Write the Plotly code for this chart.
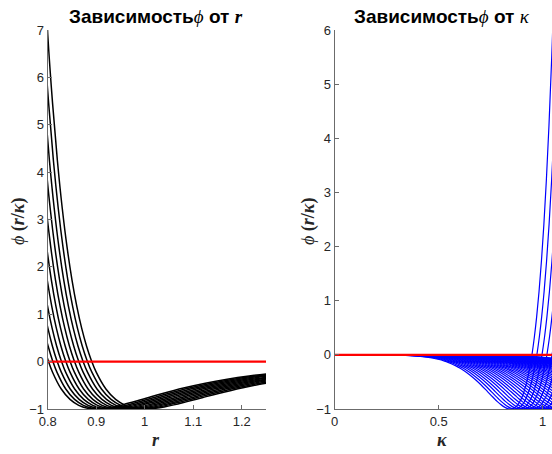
import plotly.graph_objects as go

base_s = [0.78, 0.80, 0.81, 0.82, 0.83, 0.84, 0.85, 0.86, 0.87, 0.88, 0.89, 0.90,
          0.92, 0.94, 0.96, 0.98, 1.00, 1.02, 1.04, 1.06, 1.08, 1.10, 1.12, 1.15,
          1.20, 1.25, 1.30, 1.35, 1.40, 1.45, 1.50, 1.55, 1.60, 1.70, 1.80, 1.90,
          2.00, 2.20, 2.50, 2.80, 3.00, 3.50, 4.00, 10.0, 1000.0]
base_phi = [10.837, 6.9225, 5.4552, 4.2414, 3.2382, 2.4098, 1.7274, 1.1661, 0.7059,
            0.3301, 0.0244, -0.2227, -0.5785, -0.7979, -0.9230, -0.9834, -1.0,
            -0.9874, -0.9560, -0.9129, -0.8632, -0.8103, -0.7566, -0.6778, -0.5576,
            -0.4556, -0.3714, -0.3031, -0.2480, -0.2036, -0.1679, -0.1390, -0.1157,
            -0.0811, -0.0579, -0.0421, -0.0310, -0.0176, -0.0082, -0.0042, -0.0027,
            -0.0011, -0.0005, 0.0, 0.0]

# Left panel: one curve per kappa
kappa_left = [0.90, 0.91, 0.92, 0.93, 0.94, 0.95, 0.96, 0.97, 0.98, 0.99, 1.00]
# Right panel: one curve per r
r_right = [0.845, 0.866, 0.888, 0.909, 0.931, 0.952, 0.974, 0.995, 1.017, 1.038,
           1.060, 1.081, 1.103, 1.124, 1.146, 1.167, 1.189, 1.210, 1.232, 1.253,
           1.275, 1.296, 1.318, 1.339, 1.361, 1.382, 1.404, 1.425, 1.447, 1.468,
           1.490, 1.511, 1.533, 1.554, 1.576, 1.597, 1.619, 1.640, 1.662, 1.683,
           1.705, 1.726, 1.748, 1.769, 1.791, 1.812, 1.834, 1.855, 1.877]

zero_left_x = [0.8, 1.25]
zero_right_x = [0.0, 1.2]
zero_y = [0, 0]

left_xticks = [0.8, 0.9, 1.0, 1.1, 1.2]
left_xtext = ["0.8", "0.9", "1", "1.1", "1.2"]
left_yticks = [-1, 0, 1, 2, 3, 4, 5, 6, 7]
right_xticks = [0, 0.5, 1]
right_xtext = ["0", "0.5", "1"]
right_yticks = [-1, 0, 1, 2, 3, 4, 5, 6]

W, H = 552, 454
fig = go.Figure()

for k in kappa_left:
    fig.add_trace(go.Scatter(x=[k * s for s in base_s], y=base_phi, mode="lines",
                             line=dict(color="black", width=1.5, shape="spline"),
                             xaxis="x", yaxis="y", showlegend=False, hoverinfo="skip"))
fig.add_trace(go.Scatter(x=zero_left_x, y=zero_y, mode="lines",
                         line=dict(color="#ff0000", width=2.2), xaxis="x", yaxis="y",
                         showlegend=False))

for r in r_right:
    fig.add_trace(go.Scatter(x=[r / s for s in base_s], y=base_phi, mode="lines",
                             line=dict(color="#0000ff", width=1.2, shape="spline"),
                             xaxis="x2", yaxis="y2", showlegend=False, hoverinfo="skip"))
fig.add_trace(go.Scatter(x=zero_right_x, y=zero_y, mode="lines",
                         line=dict(color="#ff0000", width=2.2), xaxis="x2", yaxis="y2",
                         showlegend=False))

axcol = "#6b6b6b"
tickfont = dict(family="Liberation Sans, Arial, sans-serif", size=13, color="#262626")
common = dict(showgrid=False, zeroline=False, showline=True, linecolor=axcol, linewidth=1,
              ticks="inside", ticklen=4, tickcolor=axcol, tickwidth=1, tickfont=tickfont,
              mirror=False, fixedrange=True, automargin=False)

ytop = 1 - 30 / H
ybot = 1 - 409 / H
fig.update_layout(
    width=W, height=H, margin=dict(l=0, r=0, t=0, b=0, autoexpand=False),
    paper_bgcolor="white", plot_bgcolor="white",
    xaxis=dict(domain=[47.7 / W, 266 / W], range=[0.8, 1.25], tickvals=left_xticks,
               ticktext=left_xtext, anchor="y", **common),
    yaxis=dict(domain=[ybot, ytop], range=[-1, 7], tickvals=left_yticks, anchor="x", **common),
    xaxis2=dict(domain=[334.7 / W, 1.0], range=[0, 1.045], tickvals=right_xticks,
                ticktext=right_xtext, anchor="y2", **common),
    yaxis2=dict(domain=[ybot, ytop], range=[-1, 6], tickvals=right_yticks, anchor="x2", **common),
)

SERIF = "font-family:'Liberation Serif','Times New Roman',serif"
titlefont = dict(family="Liberation Sans, Arial, sans-serif", size=19, color="black")
serif = dict(family="Liberation Serif, Times New Roman, serif", size=18, color="#262626")
ann = dict(xref="paper", yref="paper", showarrow=False, xanchor="center", yanchor="middle")
fig.add_annotation(x=156 / W, y=1 - 17 / H,
                   text=f"<b>Зависимость</b><span style=\"{SERIF}\"><i>ϕ</i></span> <b>от</b> "
                        f"<span style=\"{SERIF}\"><b><i>r</i></b></span>",
                   font=titlefont, **ann)
fig.add_annotation(x=442 / W, y=1 - 17 / H,
                   text=f"<b>Зависимость</b><span style=\"{SERIF}\"><i>ϕ</i></span> <b>от</b> "
                        f"<span style=\"{SERIF}\"><i>κ</i></span>",
                   font=titlefont, **ann)
fig.add_annotation(x=156 / W, y=1 - 440 / H, text="<b><i>r</i></b>", font=serif, **ann)
fig.add_annotation(x=442 / W, y=1 - 440 / H, text="<b><i>κ</i></b>", font=serif, **ann)
fig.add_annotation(x=18 / W, y=1 - 222 / H, textangle=-90,
                   text="<i>ϕ</i> <b>(<i>r</i>/<i>κ</i>)</b>", font=serif, **ann)
fig.add_annotation(x=308 / W, y=1 - 222 / H, textangle=-90,
                   text="<i>ϕ</i> <b>(<i>r</i>/<i>κ</i>)</b>", font=serif, **ann)

fig.write_html("out.html", config={"displayModeBar": False},
               post_script="document.body.style.margin='0';document.body.style.overflow='hidden';")
